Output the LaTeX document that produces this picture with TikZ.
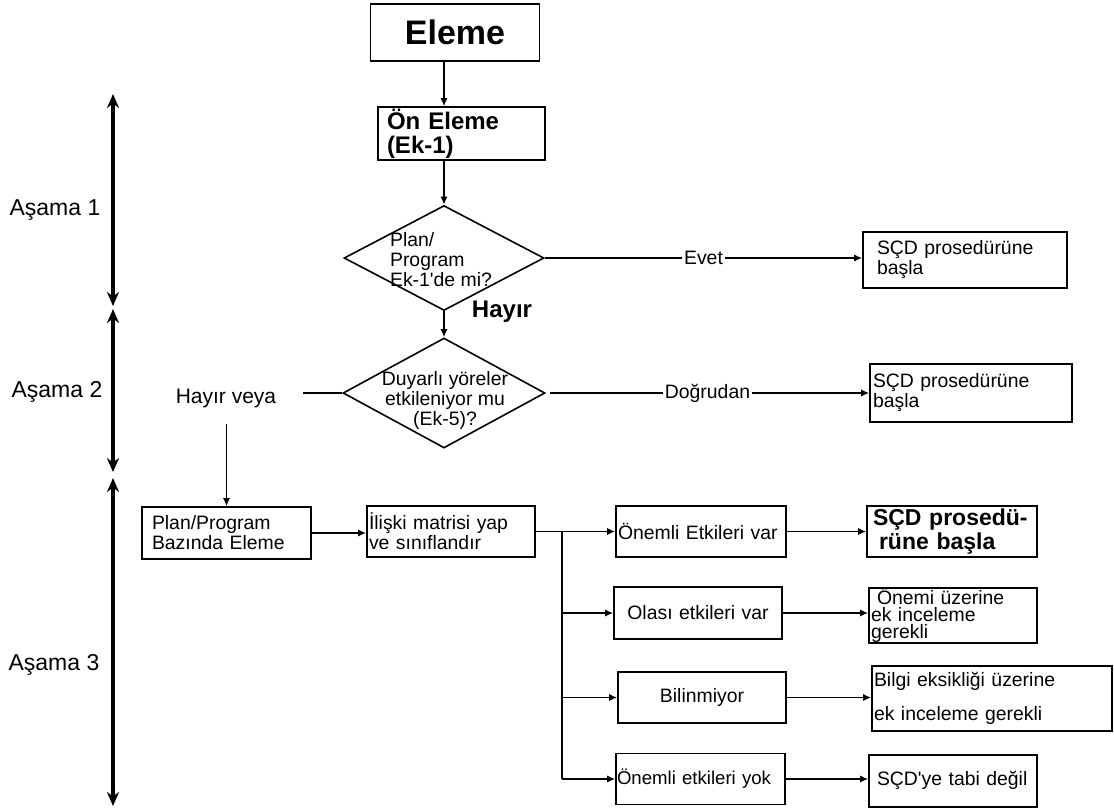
\documentclass[tikz,border=0pt]{standalone}
\usepackage{fontspec}
\setmainfont{Liberation Sans}
\usetikzlibrary{arrows.meta, shapes.geometric}

\begin{document}
\begin{tikzpicture}[x=0.5pt, y=-0.5pt,
    font=\fontsize{9.7}{10}\selectfont,
    box/.style={draw, line width=0.8pt, inner xsep=1pt, inner ysep=0pt, align=left},
    dec/.style={draw, diamond, line width=0.8pt, inner sep=0pt},
    link/.style={-{Latex[length=4pt,width=3.5pt]}, line width=0.7pt},
    phase/.style={{Stealth[length=7pt,width=6pt]}-{Stealth[length=7pt,width=6pt]}, line width=1.6pt},
    lbl/.style={fill=white, inner sep=1pt}
]
\useasboundingbox (0,0) rectangle (1114,811);

% top of the chart
\node[box, align=center, minimum width=84.5pt, minimum height=28.5pt,
      font=\fontsize{17}{17}\selectfont\bfseries] (eleme) at (455,32.5) {Eleme};
\node[box, inner xsep=4.5pt, text width=74.5pt, minimum height=26.5pt,
      font=\fontsize{12}{12}\selectfont\bfseries] (oneleme) at (461.5,133.5) {Ön Eleme\\(Ek-1)};
\node[dec, minimum width=100pt, minimum height=52.5pt] (d1) at (444,258) {};
\node[align=left] (d1txt) at (441,260) {Plan/\\Program\\Ek-1\textquotesingle de mi?};
\node[dec, minimum width=101pt, minimum height=55pt] (d2) at (444,393) {};
\node[align=center] (d2txt) at (445,400) {Duyarlı yöreler\\etkileniyor mu\\(Ek-5)?};
\node[font=\fontsize{12}{12}\selectfont\bfseries] (hayir) at (502,312) {Hayır};
\node[font=\fontsize{10.5}{10.5}\selectfont] (hveya) at (226,398) {Hayır veya};

\node[box, inner xsep=7pt, text width=88pt, minimum height=28pt] (scd1) at (965,260) {SÇD prosedürüne\\başla};
\node[box, inner xsep=1.5pt, text width=98pt, minimum height=29pt] (scd2) at (971,393) {SÇD prosedürüne\\başla};

% stages
\coordinate (p0) at (113,94);
\coordinate (p1) at (113,306);
\coordinate (p2) at (113,309);
\coordinate (p3) at (113,472);
\coordinate (p4) at (113,478);
\coordinate (p5) at (113,806);
\draw[phase] (p0) -- (p1);
\draw[phase] (p2) -- (p3);
\draw[phase] (p4) -- (p5);
\node[font=\fontsize{11.5}{11.5}\selectfont] (a1) at (55,210) {Aşama 1};
\node[font=\fontsize{11.5}{11.5}\selectfont] (a2) at (57,392) {Aşama 2};
\node[font=\fontsize{11.5}{11.5}\selectfont] (a3) at (54,665) {Aşama 3};

% stage 3
\node[box, inner xsep=5pt, text width=74.5pt, minimum height=26pt] (ppb) at (226.5,533) {Plan/Program\\Bazında Eleme};
\node[box, text width=82pt, minimum height=25.5pt] (iliski) at (451,531.5) {İlişki matrisi yap\\ve sınıflandır};
\node[box, text width=83pt, minimum height=25.5pt] (onm1) at (701,531.5) {Önemli Etkileri var};
\node[box, align=center, text width=82pt, minimum height=26pt] (olasi) at (698,613) {Olası etkileri var};
\node[box, align=center, text width=82pt, minimum height=25.5pt] (bilin) at (702,697.5) {Bilinmiyor};
\node[box, inner xsep=0.5pt, text width=83.5pt, minimum height=25.5pt,
      font=\fontsize{9.3}{10}\selectfont] (yok) at (700.5,779) {\raisebox{-3pt}{Önemli etkileri yok}};

\node[box, inner xsep=3pt, text width=79pt, minimum height=25.5pt,
      font=\fontsize{11.5}{10}\selectfont\bfseries] (scd3) at (952,531.5) {SÇD prosedü-\\\hspace*{3pt}rüne başla};
\node[box, text width=82pt, minimum height=26.5pt,
      font=\fontsize{9.7}{8.6}\selectfont] (onemi) at (953,615.5) {\hspace*{3pt}Önemi üzerine\\ek inceleme\\gerekli};
\node[box, text width=118pt, minimum height=32.5pt] (bilgi) at (992,698.5) {Bilgi eksikliği üzerine\\[7pt]ek inceleme gerekli};
\node[box, inner xsep=4pt, text width=76pt, minimum height=26pt] (tabi) at (953,781) {\raisebox{3pt}{SÇD\textquotesingle ye tabi değil}};

% connectors
\draw[link] (eleme.south -| d1.north) -- (oneleme.north -| d1.north);
\draw[link] (oneleme.south -| d1.north) -- (d1.north);
\draw[link] (d1.south) -- (d2.north);
\draw[link] (d1.east) -- node[lbl] {Evet} (d1.east -| scd1.west);
\draw[link, shorten <=2pt] (d2.east) -- node[lbl] {Doğrudan} (d2.east -| scd2.west);
\coordinate (hv) at (303,393);
\draw[line width=0.7pt] (d2.west) -- (hv);
\draw[link, shorten <=5pt] (hveya.south -| ppb.north) -- (ppb.north);
\draw[link] (ppb.east) -- (ppb.east -| iliski.west);
\draw[link] (iliski.east) -- (onm1.west);
\coordinate (split) at (562,531.5);
\draw[line width=0.7pt] (split) -- (split |- yok.west);
\foreach \n in {olasi, bilin, yok}
    \draw[link] (split |- \n.west) -- (\n.west);
\draw[link] (onm1.east) -- (scd3.west);
\draw[link] (olasi.east) -- (olasi.east -| onemi.west);
\draw[link] (bilin.east) -- (bilin.east -| bilgi.west);
\draw[link] (yok.east) -- (yok.east -| tabi.west);
\end{tikzpicture}
\end{document}
